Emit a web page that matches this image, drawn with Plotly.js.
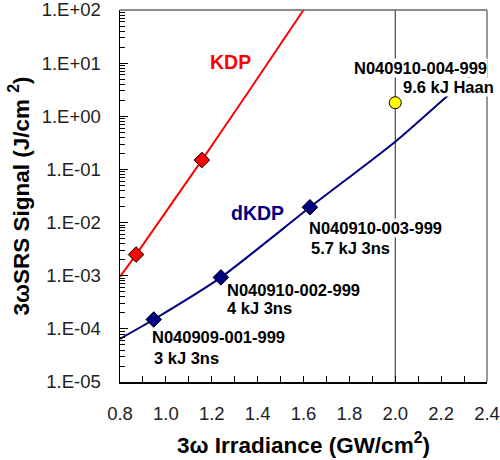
<!DOCTYPE html>
<html>
<head>
<meta charset="utf-8">
<script src="https://cdn.plot.ly/plotly-3.0.1.min.js"></script>
<style>html,body{margin:0;padding:0;background:#fff;}#chart{width:500px;height:460px;}</style>
</head>
<body>
<div id="chart"></div>
<script>
// KDP fit line and measured points
const kdpLineX = [0.8, 0.87, 1.157, 1.36, 1.6];
const kdpLineY = [9.6e-4, 2.5e-3, 0.15, 2.9, 100];
const kdpPtsX = [0.87, 1.157];
const kdpPtsY = [2.5e-3, 0.15];
// dKDP fit line and measured points
const dkdpLineX = [0.8, 0.947, 1.24, 1.628, 2.0, 2.231, 2.4];
const dkdpLineY = [6.5e-5, 1.5e-4, 9.3e-4, 0.0194, 0.333, 2.5, 10.5];
const dkdpPtsX = [0.947, 1.24, 1.628];
const dkdpPtsY = [1.5e-4, 9.3e-4, 0.0194];
// Haan shot
const haanX = [2.0];
const haanY = [1.8];
// Axis ticks
const yTickVals = [1e-5, 1e-4, 1e-3, 1e-2, 1e-1, 1, 10, 100];
const yTickText = ["1.E-05","1.E-04","1.E-03","1.E-02","1.E-01","1.E+00","1.E+01","1.E+02"];
const xTickVals = [0.8, 1.0, 1.2, 1.4, 1.6, 1.8, 2.0, 2.2, 2.4];
const xTickText = ["0.8","1.0","1.2","1.4","1.6","1.8","2.0","2.2","2.4"];
const refLineX = 2.0;

const FONT = "Liberation Sans, Arial, sans-serif";

const traces = [
  {x: kdpLineX, y: kdpLineY, mode: 'lines', line: {color: '#FF0000', width: 2, shape: 'spline', smoothing: 0.5}, hoverinfo: 'skip'},
  {x: dkdpLineX, y: dkdpLineY, mode: 'lines', line: {color: '#000080', width: 2, shape: 'spline', smoothing: 0.6}, hoverinfo: 'skip'},
  {x: kdpPtsX, y: kdpPtsY, mode: 'markers', marker: {symbol: 'diamond', size: 12, color: '#FF0000', line: {color: '#000', width: 1}}},
  {x: dkdpPtsX, y: dkdpPtsY, mode: 'markers', marker: {symbol: 'diamond', size: 12, color: '#000080', line: {color: '#000', width: 1}}},
  {x: haanX, y: haanY, mode: 'markers', marker: {symbol: 'circle', size: 12, color: '#FFFF00', line: {color: '#000', width: 1}}}
];

function lab(text, x, ylog, opts) {
  return Object.assign({
    text: '<b>' + text + '</b>', x: x, y: ylog, xref: 'x', yref: 'y',
    showarrow: false, xanchor: 'left', yanchor: 'middle',
    font: {family: FONT, size: 16.5, color: '#000'}, borderpad: 0
  }, opts || {});
}

const layout = {
  width: 500, height: 460,
  margin: {l: 120, r: 13, t: 10, b: 78},
  paper_bgcolor: '#fff', plot_bgcolor: '#fff',
  showlegend: false,
  font: {family: FONT, color: '#000'},
  xaxis: {
    range: [0.8, 2.4], tickmode: 'array', tickvals: xTickVals, ticktext: xTickText,
    ticks: 'inside', ticklen: 6, tickcolor: '#000', tickwidth: 1,
    minor: {dtick: 0.1, ticks: 'inside', ticklen: 6, tickcolor: '#000'},
    showline: true, linecolor: '#000', linewidth: 1.5, showgrid: false, zeroline: false,
    tickfont: {family: FONT, size: 18.5, color: '#222'}, ticklabelstandoff: 14,
    ticklabeloverflow: 'allow',
    title: {text: '<b>3ω Irradiance (GW/cm<sup>2</sup>)</b>', font: {family: FONT, size: 22.5, color: '#000'}, standoff: 14}
  },
  yaxis: {
    type: 'log', range: [-5, 2], tickmode: 'array', tickvals: yTickVals, ticktext: yTickText,
    ticks: 'inside', ticklen: 8, tickcolor: '#000', tickwidth: 1,
    minor: {dtick: 'D1', ticks: 'inside', ticklen: 5, tickcolor: '#000'},
    showline: true, linecolor: '#000', linewidth: 1.5, showgrid: false, zeroline: false,
    tickfont: {family: FONT, size: 18.5, color: '#222'}, ticklabelstandoff: 14,
    ticklabeloverflow: 'allow',
    title: {text: '<b>3ωSRS Signal (J/cm <sup>2</sup>)</b>', font: {family: FONT, size: 22.5, color: '#000'}, standoff: 6}
  },
  shapes: [
    {type: 'line', xref: 'x', yref: 'paper', x0: refLineX, x1: refLineX, y0: 0, y1: 1, line: {color: '#222', width: 1}, layer: 'below'},
    {type: 'line', xref: 'paper', yref: 'paper', x0: 0, x1: 1, y0: 1, y1: 1, line: {color: '#666', width: 1.5}},
    {type: 'line', xref: 'paper', yref: 'paper', x0: 1, x1: 1, y0: 0, y1: 1, line: {color: '#777', width: 1.5}}
  ],
  annotations: [
    lab('KDP', 1.28, 1.02, {xanchor: 'center', font: {family: FONT, size: 19.5, color: '#FF0000'}}),
    lab('dKDP', 1.40, -1.82, {xanchor: 'center', font: {family: FONT, size: 19.5, color: '#000080'}}),
    lab('N040910-004-999', 1.816, 0.909, {bgcolor: '#fff'}),
    lab('9.6 kJ Haan', 2.029, 0.551, {bgcolor: '#fff'}),
    lab('N040910-003-999', 1.620, -2.10, {bgcolor: '#fff'}),
    lab('5.7 kJ 3ns', 1.628, -2.48),
    lab('N040910-002-999', 1.262, -3.27),
    lab('4 kJ 3ns', 1.262, -3.61),
    lab('N040909-001-999', 0.935, -4.15),
    lab('3 kJ 3ns', 0.944, -4.55)
  ]
};

Plotly.newPlot('chart', traces, layout, {staticPlot: true, displayModeBar: false});
</script>
</body>
</html>
